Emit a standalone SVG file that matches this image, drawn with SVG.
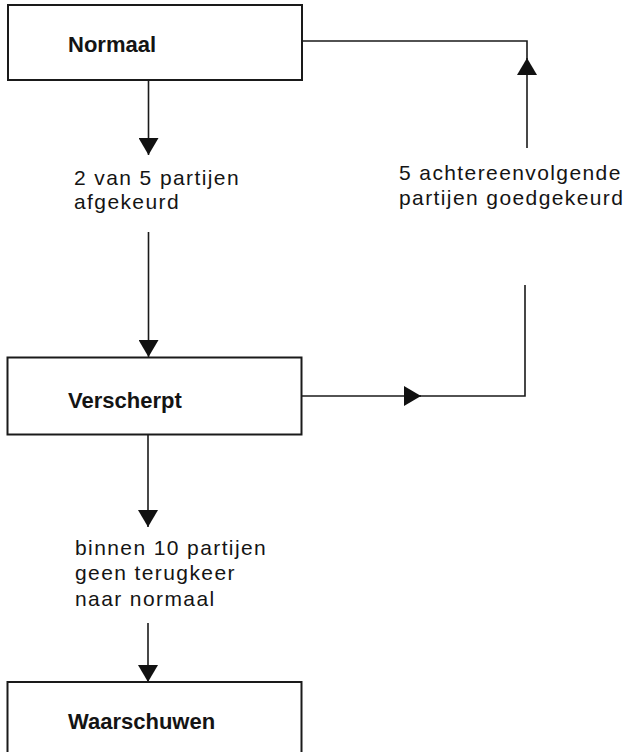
<svg xmlns="http://www.w3.org/2000/svg" width="624" height="752" viewBox="0 0 624 752">
<style>
.box{fill:#fff;stroke:#1a1a1a;stroke-width:2}
.title{font-family:"Liberation Sans",Arial,sans-serif;font-weight:bold;font-size:22px;fill:#141414}
.lbl{font-family:"Liberation Sans",Arial,sans-serif;font-size:21px;letter-spacing:1.4px;fill:#141414}
.con{fill:none;stroke:#1a1a1a;stroke-width:1.6}
</style>
<defs>
<marker id="ah" markerUnits="userSpaceOnUse" markerWidth="20" markerHeight="20" refX="17" refY="10" orient="auto" viewBox="0 0 20 20">
<path d="M0,0 L17,10 L0,20 z" fill="#111"/>
</marker>
</defs>
<rect width="624" height="752" fill="#fff"/>
<g id="connectors">
<line class="con" x1="148.5" y1="81" x2="148.5" y2="155" marker-end="url(#ah)"/>
<line class="con" x1="148.5" y1="232" x2="148.5" y2="357" marker-end="url(#ah)"/>
<line class="con" x1="148" y1="435" x2="148" y2="527" marker-end="url(#ah)"/>
<line class="con" x1="148" y1="623" x2="148" y2="682" marker-end="url(#ah)"/>
<line class="con" x1="302" y1="396" x2="421" y2="396" marker-end="url(#ah)"/>
<polyline class="con" points="420,396 525,396 525,285"/>
<line class="con" x1="527" y1="148" x2="527" y2="58" marker-end="url(#ah)"/>
<polyline class="con" points="527,60 527,41 302,41"/>
</g>
<g id="normaal">
<rect class="box" x="8" y="5" width="294" height="75"/>
<text class="title" x="68" y="52">Normaal</text>
</g>
<g id="verscherpt">
<rect class="box" x="7.5" y="357.5" width="294" height="77"/>
<text class="title" x="68" y="408">Verscherpt</text>
</g>
<g id="waarschuwen">
<rect class="box" x="7.5" y="682" width="294" height="80"/>
<text class="title" x="68" y="729">Waarschuwen</text>
</g>
<g id="label-afgekeurd">
<text class="lbl" x="74" y="185">2 van 5 partijen</text>
<text class="lbl" x="74" y="209">afgekeurd</text>
</g>
<g id="label-goedgekeurd">
<text class="lbl" x="399" y="180">5 achtereenvolgende</text>
<text class="lbl" x="399" y="205">partijen goedgekeurd</text>
</g>
<g id="label-binnen">
<text class="lbl" x="75" y="555">binnen 10 partijen</text>
<text class="lbl" x="75" y="580">geen terugkeer</text>
<text class="lbl" x="75" y="606">naar normaal</text>
</g>
</svg>
